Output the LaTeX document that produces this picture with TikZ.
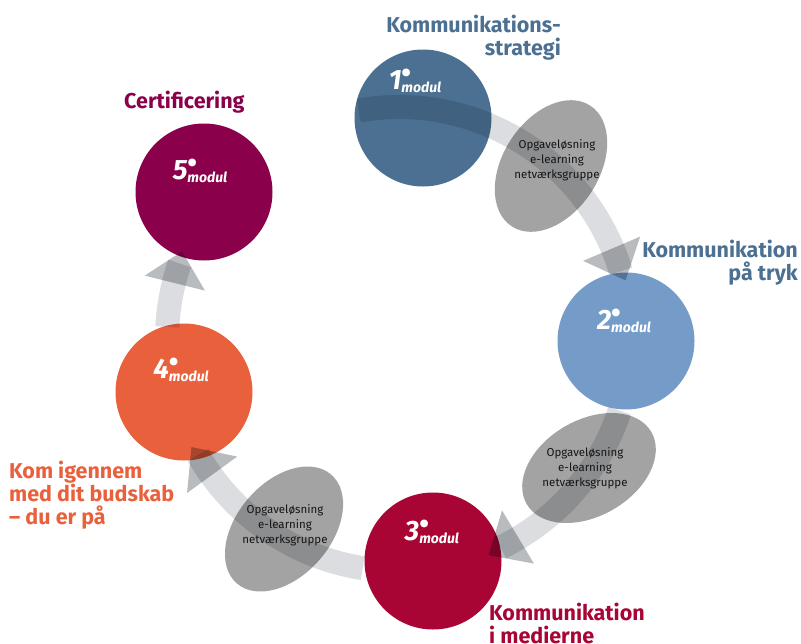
\documentclass[tikz,border=0pt]{standalone}
\usepackage{fontspec}
\setmainfont{Fira Sans}
\usetikzlibrary{shapes.geometric,calc}

\definecolor{mod1}{HTML}{4B7091}
\definecolor{mod2}{HTML}{759CC8}
\definecolor{mod3}{HTML}{A80535}
\definecolor{mod4}{HTML}{E9603D}
\definecolor{mod5}{HTML}{8B004A}
\definecolor{taskgray}{HTML}{A3A3A3}
\definecolor{taskink}{HTML}{151515}
\definecolor{bandgray}{HTML}{DCDDE0}
\definecolor{tipgray}{HTML}{B8BCBF}

\newcommand{\modtag}[1]{{\fontsize{28}{28}\selectfont\bfseries\itshape #1}%
  \rlap{\raisebox{7pt}{\fontsize{28}{28}\selectfont\bfseries •}}%
  \raisebox{-3pt}{\fontsize{14}{14}\selectfont\bfseries\itshape modul}}

\tikzset{
  band/.style={draw=bandgray, line width=24pt},
  tiptri/.style={fill=tipgray}
}

\begin{document}
\begin{tikzpicture}[x=1pt,y=1pt]

      \useasboundingbox (0,0) rectangle (801,-643);
      \coordinate (c) at (399,-339);

      \coordinate (e1) at (551,-166);
      \coordinate (e2) at (589,-468);
      \coordinate (e3) at (284,-529);
      \fill[taskgray, rotate around={57:(e1)}] (e1) ellipse [x radius=72pt, y radius=48pt];
      \fill[taskgray, rotate around={30:(e2)}] (e2) ellipse [x radius=72pt, y radius=48pt];
      \fill[taskgray, rotate around={49:(e3)}] (e3) ellipse [x radius=72pt, y radius=47pt];

      \begin{scope}[every node/.style={circle, minimum size=137pt, inner sep=0pt}]
        \node[fill=mod1] (m1) at (423,-118) {};
        \node[fill=mod2] (m2) at (626,-341) {};
        \node[fill=mod3] (m3) at (433,-561) {};
        \node[fill=mod4] (m4) at (184,-392) {};
        \node[fill=mod5] (m5) at (204,-192) {};
      \end{scope}

      \begin{scope}[blend mode=multiply]
        \draw[band] ($(c)+(100:232pt)$) arc [start angle=100, end angle=17, radius=232pt];
        \draw[band] ($(c)+(-18:232pt)$) arc [start angle=-18, end angle=-64, radius=232pt];
        \draw[band] ($(c)+(261:232pt)$) arc [start angle=261, end angle=210, radius=232pt];
        \draw[band] ($(c)+(177:232pt)$) arc [start angle=177, end angle=161, radius=232pt];
        \foreach \b/\t in {23/14.5, -59/-67.5, 216/207.5, 166/158}
          \fill[tiptri] ($(c)+(\b:200pt)$) -- ($(c)+(\b:262pt)$) -- ($(c)+(\t:234pt)$) -- cycle;
      \end{scope}

      \begin{scope}[every node/.style={font=\fontsize{11.5}{15}\selectfont, text=taskink, align=center}]
        \node (t1) at (557,-160) {Opgaveløsning\\e-learning\\netværksgruppe};
        \node (t2) at (585,-468) {Opgaveløsning\\e-learning\\netværksgruppe};
        \node (t3) at (285,-525) {Opgaveløsning\\e-learning\\netværksgruppe};
      \end{scope}

      \begin{scope}[every node/.style={text=white, inner sep=0pt}]
        \node (l1) at (415,-81)  {\modtag{1}};
        \node (l2) at (624,-321) {\modtag{2}};
        \node (l3) at (432,-532) {\modtag{3}};
        \node (l4) at (181,-370) {\modtag{4}};
        \node (l5) at (200,-171) {\modtag{5}};
      \end{scope}

      \begin{scope}[every node/.style={font=\fontsize{21.5}{23}\selectfont\bfseries, inner sep=0pt}]
        \node[text=mod1, align=right, anchor=north east] (h1) at (561,-15) {Kommunikations-\\strategi};
        \node[text=mod1, align=right, anchor=north east] (h2) at (798,-240) {Kommunikation\\på tryk};
        \node[text=mod3, align=left, anchor=north west] (h3) at (489,-603) {Kommunikation\\i medierne};
        \node[text=mod4, align=left, anchor=north west] (h4) at (9,-461) {Kom igennem\\med dit budskab\\– du er på};
        \node[text=mod5, anchor=north west] (h5) at (124,-91) {Certificering};
      \end{scope}

    \end{tikzpicture}
\end{document}
